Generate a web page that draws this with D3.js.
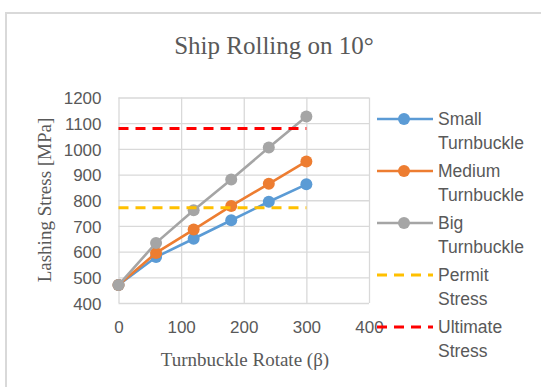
<!DOCTYPE html>
<html><head><meta charset="utf-8">
<script src="https://cdn.jsdelivr.net/npm/d3@7"></script>
<style>body{margin:0;background:#fff;}svg{display:block;}</style>
</head><body>
<script>
const rotations = [0, 60, 120, 180, 240, 300];
const smallTurnbuckle = [470, 579, 650, 722, 794, 862];
const mediumTurnbuckle = [470, 595, 686, 778, 864, 951];
const bigTurnbuckle = [470, 634, 761, 881, 1005, 1126];
const permitStress = [771, 771, 771, 771, 771, 771];
const ultimateStress = [1079, 1079, 1079, 1079, 1079, 1079];
const xTicks = [0, 100, 200, 300, 400];
const yTicks = [400, 500, 600, 700, 800, 900, 1000, 1100, 1200];
const seriesNames = [["Small", "Turnbuckle"], ["Medium", "Turnbuckle"], ["Big", "Turnbuckle"], ["Permit", "Stress"], ["Ultimate", "Stress"]];

const W = 541, H = 387;
const svg = d3.select("body").append("svg").attr("width", W).attr("height", H);
svg.append("rect").attr("width", W).attr("height", H).attr("fill", "#fff");
svg.append("rect").attr("x", 6).attr("y", 13).attr("width", W).attr("height", H)
  .attr("fill", "#fff").attr("stroke", "#d9d9d9").attr("stroke-width", 2);

const x = d3.scaleLinear().domain([0, 400]).range([118.5, 369]);
const y = d3.scaleLinear().domain([400, 1200]).range([303, 97.5]);
const textColor = "#595959";
const sans = "'Liberation Sans', Arial, sans-serif";
const serif = "'Liberation Serif', 'Times New Roman', serif";
const fmt = d3.format("d");

// gridlines
const g = svg.append("g");
g.append("g").attr("transform", `translate(0,${y(400)})`)
  .call(d3.axisBottom(x).tickValues(xTicks).tickSize(-(y(400) - y(1200))).tickFormat(""))
  .call(s => { s.select(".domain").remove(); s.selectAll("line").attr("stroke", "#d9d9d9").attr("stroke-width", 1.3); });
g.append("g").attr("transform", `translate(${x(0)},0)`)
  .call(d3.axisLeft(y).tickValues(yTicks).tickSize(-(x(400) - x(0))).tickFormat(""))
  .call(s => { s.select(".domain").remove(); s.selectAll("line").attr("stroke", "#d9d9d9").attr("stroke-width", 1.3); });

// tick labels
const yAx = svg.append("g").attr("transform", `translate(${x(0) - 17},0)`)
  .call(d3.axisLeft(y).tickValues(yTicks).tickSize(0).tickPadding(0).tickFormat(fmt));
yAx.select(".domain").remove();
yAx.selectAll("text").attr("fill", textColor).attr("font-family", sans).attr("font-size", 17).attr("dy", "0.36em");
const xAx = svg.append("g").attr("transform", `translate(0,${y(400) + 18})`)
  .call(d3.axisBottom(x).tickValues(xTicks).tickSize(0).tickPadding(0).tickFormat(fmt));
xAx.select(".domain").remove();
xAx.selectAll("text").attr("fill", textColor).attr("font-family", sans).attr("font-size", 17).attr("dy", "0.72em");

// titles
svg.append("text").attr("x", 274).attr("y", 54).attr("text-anchor", "middle")
  .attr("font-family", serif).attr("font-size", 25).attr("fill", textColor).text("Ship Rolling on 10°");
svg.append("text").attr("x", 245).attr("y", 366).attr("text-anchor", "middle")
  .attr("font-family", serif).attr("font-size", 19).attr("fill", textColor).text("Turnbuckle Rotate (β)");
svg.append("text").attr("transform", "translate(51,200) rotate(-90)").attr("text-anchor", "middle")
  .attr("font-family", serif).attr("font-size", 19).attr("fill", textColor).text("Lashing Stress [MPa]");

const series = [
  {vals: smallTurnbuckle, color: "#5b9bd5", marker: true},
  {vals: mediumTurnbuckle, color: "#ed7d31", marker: true},
  {vals: bigTurnbuckle, color: "#a5a5a5", marker: true},
  {vals: permitStress, color: "#ffc000", marker: false},
  {vals: ultimateStress, color: "#ff0000", marker: false}
];
const line = d3.line().x(d => x(d[0])).y(d => y(d[1]));
series.forEach(s => {
  const pts = rotations.map((r, i) => [r, s.vals[i]]);
  const p = svg.append("path").attr("d", line(pts)).attr("fill", "none")
    .attr("stroke", s.color).attr("stroke-width", s.marker ? 2.6 : 3);
  if (!s.marker) p.attr("stroke-dasharray", "10,7");
  if (s.marker) {
    svg.append("g").selectAll("circle").data(pts).join("circle")
      .attr("cx", d => x(d[0])).attr("cy", d => y(d[1])).attr("r", 6).attr("fill", s.color);
  }
});

// legend
const lg = svg.append("g");
series.forEach((s, i) => {
  const yy = 119 + i * 52;
  const l = lg.append("line").attr("x1", 377).attr("x2", 433).attr("y1", yy).attr("y2", yy)
    .attr("stroke", s.color).attr("stroke-width", s.marker ? 2.6 : 3);
  if (!s.marker) l.attr("stroke-dasharray", "10,7");
  if (s.marker) lg.append("circle").attr("cx", 404).attr("cy", yy).attr("r", 6).attr("fill", s.color);
  seriesNames[i].forEach((t, j) => {
    lg.append("text").attr("x", 438).attr("y", yy + j * 24).attr("dy", "0.36em")
      .attr("font-family", sans).attr("font-size", 17.5).attr("fill", textColor).text(t);
  });
});
</script>
</body></html>
